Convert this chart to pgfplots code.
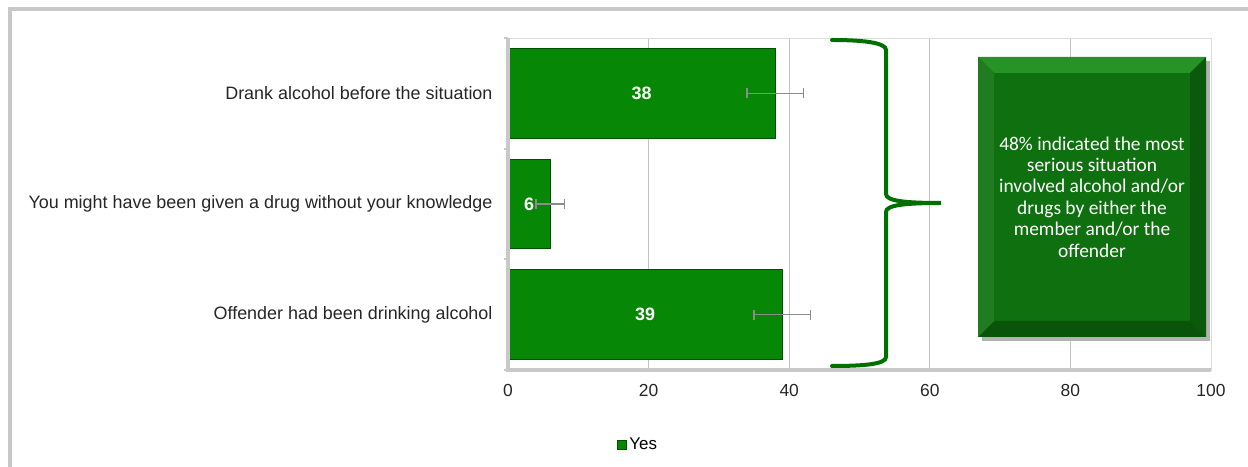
\documentclass[border=0pt]{standalone}
\usepackage{fontspec}
\setmainfont{Liberation Sans}
\newfontfamily\carlito{Carlito}
\usepackage{pgfplots}
\usepackage{pgfplotstable}
\pgfplotsset{compat=1.18}

\definecolor{bargreen}{RGB}{6,135,6}
\definecolor{bardark}{RGB}{0,80,0}
\definecolor{boxgreen}{RGB}{14,112,14}
\definecolor{bracegreen}{RGB}{0,112,0}
\definecolor{framegray}{RGB}{200,200,200}
\definecolor{gridgray}{RGB}{195,195,195}
\definecolor{errgray}{RGB}{140,140,140}

\pgfplotstableread{
y x err
0 38 4
1 6  2
2 39 4
}\alcdata

\begin{document}
\begin{tikzpicture}
\begin{scope}[x=1bp, y=-1bp]
\path[use as bounding box] (0,0) rectangle (1248,467);
% outer frame (left and top edges visible)
\draw[framegray, line width=4bp] (10,480) -- (10,9) -- (1260,9);
\end{scope}

\begin{axis}[
    at={(508bp,-370bp)}, anchor=south west,
    scale only axis,
    width=703bp, height=332bp,
    xbar, bar width=0.81,
    xmin=0, xmax=100,
    ymin=-0.5, ymax=2.5,
    y dir=reverse,
    xtick={0,20,40,60,80,100},
    ytick={0,1,2},
    yticklabels={Drank alcohol before the situation,
                 You might have been given a drug without your knowledge,
                 Offender had been drinking alcohol},
    minor ytick={-0.5,0.5,1.5,2.5},
    tick pos=left,
    major tick length=0pt,
    minor tick length=4bp,
    minor tick style={framegray, line width=2bp},
    xmajorgrids, grid style={gridgray, line width=1bp},
    axis line style={gridgray!60, line width=1bp},
    ticklabel style={font=\fontsize{17.5}{20}\selectfont, text=black!85},
    yticklabel style={font=\fontsize{18}{20}\selectfont, xshift=-12bp},
    xticklabel style={yshift=-11bp},
    /pgf/number format/assume math mode=true,
    legend style={at={(0.155,-0.225)}, anchor=west, draw=none,
                  font=\fontsize{17}{19}\selectfont, inner sep=0pt},
    legend image code/.code={\fill[bargreen, draw=bardark] (0bp,-4.5bp) rectangle (9bp,4.5bp);},
    clip=false,
]
\addplot[fill=bargreen, draw=bardark, line width=1.2bp,
    visualization depends on={x \as \xval},
    nodes near coords,
    nodes near coords style={anchor=center, text=white,
        font=\fontsize{18}{20}\selectfont\bfseries,
        shift={(axis direction cs:-\xval/2,0)}},
    error bars/.cd, x dir=both, x explicit,
    error bar style={errgray, line width=1.3bp},
    error mark options={errgray, line width=1.3bp, mark size=5bp, rotate=90},
] table[x=x, y=y, x error=err] {\alcdata};
\legend{Yes}

% thick left and bottom axis lines
\draw[framegray, line width=4bp] (rel axis cs:0,1) -- (rel axis cs:0,0) -- (rel axis cs:1,0);
\end{axis}

\begin{scope}[x=1bp, y=-1bp]
% brace
\draw[bracegreen, line width=4bp, line cap=round]
  (832,40) .. controls (865,40) and (886,43) .. (886,50) -- (886,194)
  .. controls (886,201) and (905,203) .. (941,203)
  .. controls (905,203) and (886,205) .. (886,212) -- (886,357)
  .. controls (886,364) and (865,366) .. (832,366);

% text box with bevel
\fill[black!30] (982,61) rectangle (1210,341);
\fill[boxgreen] (978,57) rectangle (1206,337);
\fill[green!50!black!85] (978,57) -- (1206,57) -- (1190,73) -- (994,73) -- cycle;
\fill[boxgreen!80!black] (1206,57) -- (1206,337) -- (1190,321) -- (1190,73) -- cycle;
\fill[boxgreen!75!black] (978,337) -- (1206,337) -- (1190,321) -- (994,321) -- cycle;
\fill[boxgreen!92!white] (978,57) -- (994,73) -- (994,321) -- (978,337) -- cycle;
\node[text=white, align=center, font=\carlito\fontsize{19.5}{21.5}\selectfont]
  at (1092,197) {48\% indicated the most\\serious situation\\involved alcohol and/or\\drugs by either the\\member and/or the\\offender};
\end{scope}
\end{tikzpicture}
\end{document}
